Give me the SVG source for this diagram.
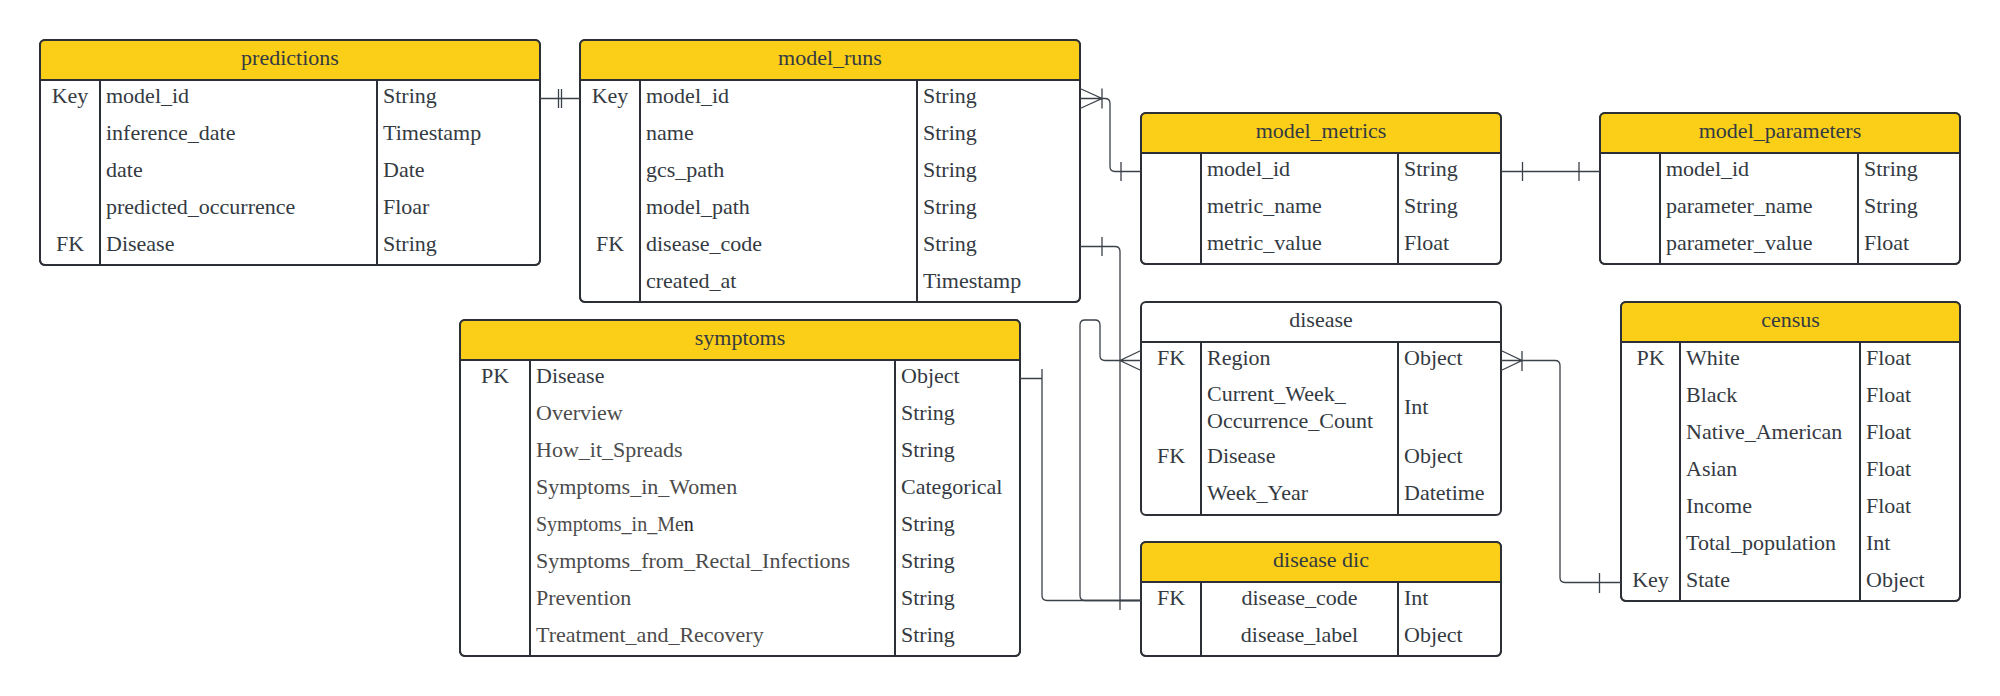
<svg xmlns="http://www.w3.org/2000/svg" width="2000" height="696" viewBox="0 0 2000 696">
<style>
.bg{fill:#ffffff}
.box{fill:#ffffff;stroke:#2c3036;stroke-width:2}
.frame{fill:none;stroke:#2c3036;stroke-width:2}
.hdr{fill:#fbcf17}
.dv{stroke:#2c3036;stroke-width:2;fill:none}
.t{font-family:"Liberation Serif","Times New Roman",serif;font-size:22px;fill:#343a42}
.g{fill:#4b4b4b}
.m{text-anchor:middle}
.cn{stroke:#3b4149;stroke-width:1.3;fill:none}
</style>
<rect class="bg" x="0" y="0" width="2000" height="696"/>

<g id="predictions">
<rect class="box" x="40" y="40" width="500" height="225" rx="5"/>
<path class="hdr" d="M40,80 V45 Q40,40 45,40 H535 Q540,40 540,45 V80 Z"/>
<rect class="frame" x="40" y="40" width="500" height="225" rx="5"/>
<path class="dv" d="M40,80 H540 M100,80 V265 M377,80 V265"/>
<text class="t m" x="290" y="64.5">predictions</text>
<text class="t m" x="70" y="102.5">Key</text>
<text class="t" x="106" y="102.5">model_id</text>
<text class="t" x="383" y="102.5">String</text>
<text class="t" x="106" y="139.5">inference_date</text>
<text class="t" x="383" y="139.5">Timestamp</text>
<text class="t" x="106" y="176.5">date</text>
<text class="t" x="383" y="176.5">Date</text>
<text class="t" x="106" y="213.5">predicted_occurrence</text>
<text class="t" x="383" y="213.5">Floar</text>
<text class="t m" x="70" y="250.5">FK</text>
<text class="t" x="106" y="250.5">Disease</text>
<text class="t" x="383" y="250.5">String</text>
</g>

<g id="model_runs">
<rect class="box" x="580" y="40" width="500" height="262" rx="5"/>
<path class="hdr" d="M580,80 V45 Q580,40 585,40 H1075 Q1080,40 1080,45 V80 Z"/>
<rect class="frame" x="580" y="40" width="500" height="262" rx="5"/>
<path class="dv" d="M580,80 H1080 M640,80 V302 M917,80 V302"/>
<text class="t m" x="830" y="64.5">model_runs</text>
<text class="t m" x="610" y="102.5">Key</text>
<text class="t" x="646" y="102.5">model_id</text>
<text class="t" x="923" y="102.5">String</text>
<text class="t" x="646" y="139.5">name</text>
<text class="t" x="923" y="139.5">String</text>
<text class="t" x="646" y="176.5">gcs_path</text>
<text class="t" x="923" y="176.5">String</text>
<text class="t" x="646" y="213.5">model_path</text>
<text class="t" x="923" y="213.5">String</text>
<text class="t m" x="610" y="250.5">FK</text>
<text class="t" x="646" y="250.5">disease_code</text>
<text class="t" x="923" y="250.5">String</text>
<text class="t" x="646" y="287.5">created_at</text>
<text class="t" x="923" y="287.5">Timestamp</text>
</g>

<g id="model_metrics">
<rect class="box" x="1141" y="113" width="360" height="151" rx="5"/>
<path class="hdr" d="M1141,153 V118 Q1141,113 1146,113 H1496 Q1501,113 1501,118 V153 Z"/>
<rect class="frame" x="1141" y="113" width="360" height="151" rx="5"/>
<path class="dv" d="M1141,153 H1501 M1201,153 V264 M1398,153 V264"/>
<text class="t m" x="1321" y="137.5">model_metrics</text>
<text class="t" x="1207" y="175.5">model_id</text>
<text class="t" x="1404" y="175.5">String</text>
<text class="t" x="1207" y="212.5">metric_name</text>
<text class="t" x="1404" y="212.5">String</text>
<text class="t" x="1207" y="249.5">metric_value</text>
<text class="t" x="1404" y="249.5">Float</text>
</g>

<g id="model_parameters">
<rect class="box" x="1600" y="113" width="360" height="151" rx="5"/>
<path class="hdr" d="M1600,153 V118 Q1600,113 1605,113 H1955 Q1960,113 1960,118 V153 Z"/>
<rect class="frame" x="1600" y="113" width="360" height="151" rx="5"/>
<path class="dv" d="M1600,153 H1960 M1660,153 V264 M1858,153 V264"/>
<text class="t m" x="1780" y="137.5">model_parameters</text>
<text class="t" x="1666" y="175.5">model_id</text>
<text class="t" x="1864" y="175.5">String</text>
<text class="t" x="1666" y="212.5">parameter_name</text>
<text class="t" x="1864" y="212.5">String</text>
<text class="t" x="1666" y="249.5">parameter_value</text>
<text class="t" x="1864" y="249.5">Float</text>
</g>

<g id="disease">
<rect class="box" x="1141" y="302" width="360" height="213" rx="5"/>
<path class="dv" d="M1141,342 H1501 M1201,342 V515 M1398,342 V515"/>
<text class="t m" x="1321" y="326.5">disease</text>
<text class="t m" x="1171" y="364.5">FK</text>
<text class="t" x="1207" y="364.5">Region</text>
<text class="t" x="1404" y="364.5">Object</text>
<text class="t" x="1207" y="401">Current_Week_</text>
<text class="t" x="1207" y="427.5">Occurrence_Count</text>
<text class="t" x="1404" y="414">Int</text>
<text class="t m" x="1171" y="462.5">FK</text>
<text class="t" x="1207" y="462.5">Disease</text>
<text class="t" x="1404" y="462.5">Object</text>
<text class="t" x="1207" y="499.5">Week_Year</text>
<text class="t" x="1404" y="499.5">Datetime</text>
</g>

<g id="disease_dic">
<rect class="box" x="1141" y="542" width="360" height="114" rx="5"/>
<path class="hdr" d="M1141,582 V547 Q1141,542 1146,542 H1496 Q1501,542 1501,547 V582 Z"/>
<rect class="frame" x="1141" y="542" width="360" height="114" rx="5"/>
<path class="dv" d="M1141,582 H1501 M1201,582 V656 M1398,582 V656"/>
<text class="t m" x="1321" y="566.5">disease dic</text>
<text class="t m" x="1171" y="604.5">FK</text>
<text class="t m" x="1299.5" y="604.5">disease_code</text>
<text class="t" x="1404" y="604.5">Int</text>
<text class="t m" x="1299.5" y="641.5">disease_label</text>
<text class="t" x="1404" y="641.5">Object</text>
</g>

<g id="census">
<rect class="box" x="1621" y="302" width="339" height="299" rx="5"/>
<path class="hdr" d="M1621,342 V307 Q1621,302 1626,302 H1955 Q1960,302 1960,307 V342 Z"/>
<rect class="frame" x="1621" y="302" width="339" height="299" rx="5"/>
<path class="dv" d="M1621,342 H1960 M1680,342 V601 M1860,342 V601"/>
<text class="t m" x="1790.5" y="326.5">census</text>
<text class="t m" x="1650.5" y="364.5">PK</text>
<text class="t" x="1686" y="364.5">White</text>
<text class="t" x="1866" y="364.5">Float</text>
<text class="t" x="1686" y="401.5">Black</text>
<text class="t" x="1866" y="401.5">Float</text>
<text class="t" x="1686" y="438.5">Native_American</text>
<text class="t" x="1866" y="438.5">Float</text>
<text class="t" x="1686" y="475.5">Asian</text>
<text class="t" x="1866" y="475.5">Float</text>
<text class="t" x="1686" y="512.5">Income</text>
<text class="t" x="1866" y="512.5">Float</text>
<text class="t" x="1686" y="549.5">Total_population</text>
<text class="t" x="1866" y="549.5">Int</text>
<text class="t m" x="1650.5" y="586.5">Key</text>
<text class="t" x="1686" y="586.5">State</text>
<text class="t" x="1866" y="586.5">Object</text>
</g>

<g id="symptoms">
<rect class="box" x="460" y="320" width="560" height="336" rx="5"/>
<path class="hdr" d="M460,360 V325 Q460,320 465,320 H1015 Q1020,320 1020,325 V360 Z"/>
<rect class="frame" x="460" y="320" width="560" height="336" rx="5"/>
<path class="dv" d="M460,360 H1020 M530,360 V656 M895,360 V656"/>
<text class="t m" x="740" y="344.5">symptoms</text>
<text class="t m" x="495" y="382.5">PK</text>
<text class="t" x="536" y="382.5">Disease</text>
<text class="t" x="901" y="382.5">Object</text>
<text class="t g" x="536" y="419.5">Overview</text>
<text class="t" x="901" y="419.5">String</text>
<text class="t g" x="536" y="456.5">How_it_Spreads</text>
<text class="t" x="901" y="456.5">String</text>
<text class="t g" x="536" y="493.5">Symptoms_in_Women</text>
<text class="t" x="901" y="493.5">Categorical</text>
<text class="t g" x="536" y="530.5" style="font-size:20px">Symptoms_in_Me<tspan style="fill:#1e2126">n</tspan></text>
<text class="t" x="901" y="530.5">String</text>
<text class="t g" x="536" y="567.5">Symptoms_from_Rectal_Infections</text>
<text class="t" x="901" y="567.5">String</text>
<text class="t g" x="536" y="604.5">Prevention</text>
<text class="t" x="901" y="604.5">String</text>
<text class="t g" x="536" y="641.5">Treatment_and_Recovery</text>
<text class="t" x="901" y="641.5">String</text>
</g>

<g id="connectors">
<path class="cn" d="M540,98.5 H580 M558.5,89 V108 M561.5,89 V108"/>
<path class="cn" d="M1080,98.5 H1105 Q1110,98.5 1110,103.5 V166.5 Q1110,171.5 1115,171.5 H1141 M1080,88.5 L1102,98.5 L1080,108.5 M1102,88.5 V108.5 M1121,162 V181"/>
<path class="cn" d="M1501,171.5 H1600 M1522.5,162 V181 M1579,162 V181"/>
<path class="cn" d="M1080,246.5 H1115 Q1120,246.5 1120,251.5 V600.5 H1141 M1102,237 V256 M1120,591 V610"/>
<path class="cn" d="M1020,378.5 H1042 V595.5 Q1042,600.5 1047,600.5 H1141 M1042,369 V388"/>
<path class="cn" d="M1141,360.5 H1105 Q1100,360.5 1100,355.5 V325 Q1100,320 1095,320 H1085 Q1080,320 1080,325 V595.5 Q1080,600.5 1085,600.5 H1141 M1141,350.5 L1120,360.5 L1141,370.5"/>
<path class="cn" d="M1501,360.5 H1555 Q1560,360.5 1560,365.5 V577.5 Q1560,582.5 1565,582.5 H1621 M1501,350.5 L1522,360.5 L1501,370.5 M1522,351 V371 M1599.5,573 V593"/>
</g>
</svg>
